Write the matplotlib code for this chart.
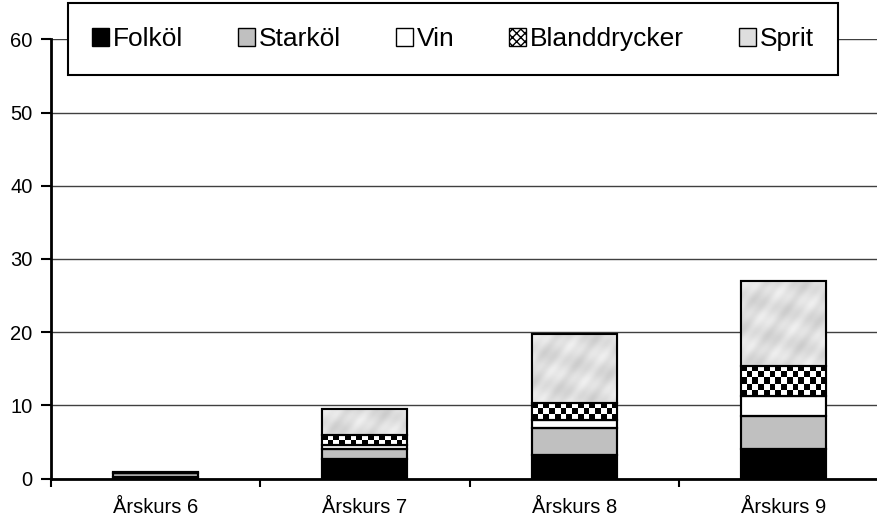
import numpy as np
import matplotlib
matplotlib.use("Agg")
import matplotlib.pyplot as plt
from matplotlib.patches import Patch

plt.rcParams['font.family'] = ['Liberation Sans', 'DejaVu Sans']

# andel elever (%) per årskurs och dryck
arskurs = ['Årskurs 6', 'Årskurs 7', 'Årskurs 8', 'Årskurs 9']
folkol = [0.2, 2.65, 3.2, 4.0]
starkol = [0.6, 1.35, 3.7, 4.6]
vin = [0.0, 0.6, 1.1, 2.7]
blanddrycker = [0.0, 1.35, 2.4, 4.1]
sprit = [0.1, 3.55, 9.4, 11.6]
yticks = [0, 10, 20, 30, 40, 50, 60]

W, H = 877, 520
fig = plt.figure(figsize=(W / 100, H / 100), dpi=100)
ax = fig.add_axes([50.7 / W, 1 - 478.7 / H, 838 / W, (478.7 - 39.3) / H])

x = np.arange(len(arskurs))
bw = 0.406

# mönster (bara utseende, inte data)
def checker(nr, nc):
    return (np.add.outer(np.arange(nr), np.arange(nc)) % 2).astype(float)

def marble(nr, nc):
    yy, xx = np.mgrid[0:nr, 0:nc]
    v = (np.sin(xx * 0.35 + yy * 0.22) + np.sin(xx * 0.13 - yy * 0.41 + 1.3)
         + 0.6 * np.sin(xx * 0.9 + yy * 0.7))
    v = (v - v.min()) / (v.max() - v.min())
    return 0.80 + 0.14 * v

serier = [('Folköl', folkol, 'black'),
          ('Starköl', starkol, '#c0c0c0'),
          ('Vin', vin, 'white'),
          ('Blanddrycker', blanddrycker, 'white'),
          ('Sprit', sprit, '#dedede')]

px_x = 838 / 4.0
px_y = (478.7 - 39.3) / 60.0

bottom = np.zeros(len(x))
for namn, vals, col in serier:
    vals = np.array(vals)
    bars = ax.bar(x, vals, bw, bottom=bottom, color=col, edgecolor='black',
                  linewidth=1.5, zorder=2)
    if namn in ('Blanddrycker', 'Sprit'):
        for b, v, b0 in zip(bars, vals, bottom):
            if v <= 0.3:
                continue
            x0 = b.get_x()
            if namn == 'Blanddrycker':
                nr = max(2, int(round(v * px_y / 5.5)))
                nc = int(round(bw * px_x / 5.5))
                img = checker(nr, nc)
                im = ax.imshow(img, cmap='gray', vmin=0, vmax=1, aspect='auto',
                               extent=(x0, x0 + bw, b0, b0 + v), zorder=2.5,
                               interpolation='nearest')
            else:
                nr = max(2, int(round(v * px_y / 2)))
                nc = int(round(bw * px_x / 2))
                img = marble(nr, nc)
                im = ax.imshow(img, cmap='gray', vmin=0, vmax=1, aspect='auto',
                               extent=(x0, x0 + bw, b0, b0 + v), zorder=2.5,
                               interpolation='bilinear')
            im.set_clip_path(b)
    ax.bar(x, vals, bw, bottom=bottom, facecolor='none', edgecolor='black',
           linewidth=1.5, zorder=3)
    bottom = bottom + vals

ax.set_xlim(-0.5, 3.5)
ax.set_ylim(0, 60)
ax.set_yticks(yticks)
ax.yaxis.grid(True, color='#404040', linewidth=1)
ax.set_axisbelow(True)

ax.set_xticks([-0.5, 0.5, 1.5, 2.5, 3.5])
ax.set_xticklabels([])
ax.set_xticks(x, minor=True)
ax.set_xticklabels(arskurs, minor=True)
ax.tick_params(axis='x', which='major', length=6, width=1.5, direction='out')
ax.tick_params(axis='x', which='minor', length=0, pad=14, labelsize=14.5)
ax.tick_params(axis='y', length=7, width=1.5, direction='out', pad=6, labelsize=14.5)

for s in ['top', 'right']:
    ax.spines[s].set_visible(False)
ax.spines['left'].set_linewidth(2)
ax.spines['bottom'].set_linewidth(2)

handles = [Patch(facecolor='black', edgecolor='black'),
           Patch(facecolor='#c0c0c0', edgecolor='black'),
           Patch(facecolor='white', edgecolor='black'),
           Patch(facecolor='white', edgecolor='black', hatch='xxxx'),
           Patch(facecolor='#dedede', edgecolor='black')]
leg = fig.legend(handles, [s[0] for s in serier], loc='center', ncol=5,
                 bbox_to_anchor=(55 / W, 1 - 75 / H, 796 / W, 72 / H),
                 mode='expand', fontsize=19, frameon=True, fancybox=False,
                 edgecolor='black', handlelength=0.65, handleheight=0.65,
                 handletextpad=0.15, columnspacing=2.0, borderpad=0.9)
leg.get_frame().set_linewidth(1.5)
leg.get_frame().set_alpha(1)

fig.savefig('out.png', dpi=100)
